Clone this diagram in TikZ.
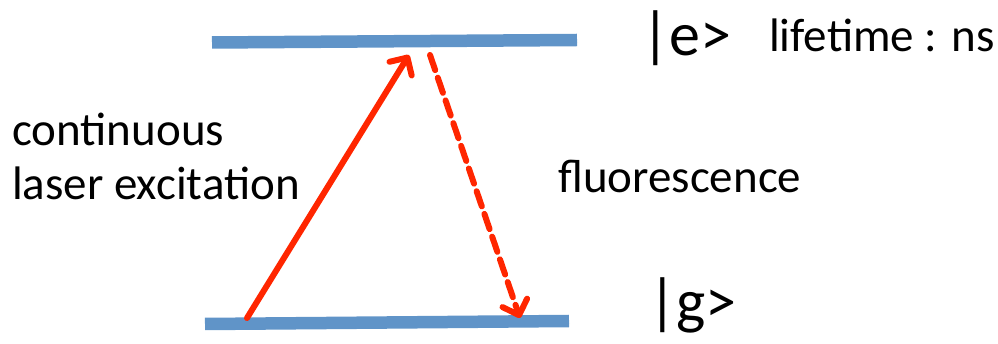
\documentclass[tikz,border=0pt]{standalone}
\usepackage{fontspec}
\setmainfont{Carlito}
\usepackage{xcolor}
\usetikzlibrary{arrows.meta,shadows}
\definecolor{levelblue}{RGB}{96,148,200}
\definecolor{laserred}{RGB}{255,38,0}

\begin{document}
\begin{tikzpicture}[x=1pt, y=-1pt]
  % Styles
  \tikzstyle{level} = [line width=12.5pt, draw=levelblue, drop shadow={shadow xshift=1pt, shadow yshift=-2.5pt, opacity=0.25}]
  \tikzstyle{excitation} = [line width=6pt, draw=laserred, line cap=round, -{Straight Barb[length=13pt, width=26pt, round]}]
  \tikzstyle{emission} = [excitation, dash pattern=on 16pt off 8pt]
  \tikzstyle{statelabel} = [anchor=base west, inner sep=0pt, font=\fontsize{62}{62}\selectfont]
  \tikzstyle{note} = [anchor=base west, inner sep=0pt, font=\fontsize{47}{54}\selectfont, align=left]

  \useasboundingbox (0,0) rectangle (998,344);

  % Energy levels
  \coordinate (e left) at (212, 42.5);
  \coordinate (e right) at (577, 40);
  \coordinate (g left) at (205, 324);
  \coordinate (g right) at (569, 321);
  \path[level] (e left) -- (e right);
  \path[level] (g left) -- (g right);

  % Transition end points
  \coordinate (pump start) at (247, 318);
  \coordinate (pump tip) at (409, 55);
  \coordinate (decay start) at (430, 55);
  \coordinate (decay tip) at (520, 318);

  % Transitions
  \draw[excitation] (pump start) -- (pump tip);
  \draw[emission] (decay start) -- (decay tip);

  % Labels
  \node[statelabel] (excited) at (641, 56) {|e>};
  \node[statelabel] (ground) at (648, 323) {|g>};
  \node[note] (lifetime) at (769, 52) {lifetime : ns};
  \node[note] (pumplabel) at (12, 200) {continuous\\laser excitation};
  \node[note] (fluo) at (558, 193) {fluorescence};
\end{tikzpicture}
\end{document}
